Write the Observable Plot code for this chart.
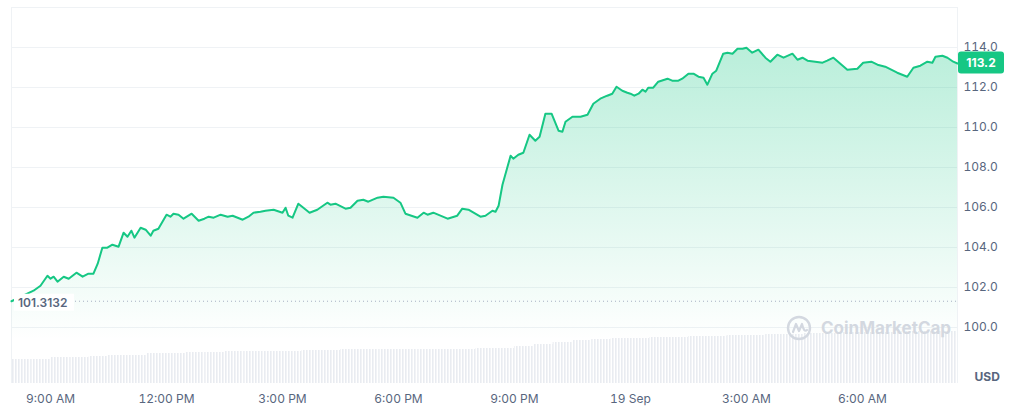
<!DOCTYPE html>
<html><head><meta charset="utf-8">
<script src="https://cdn.jsdelivr.net/npm/d3@7"></script>
<script src="https://cdn.jsdelivr.net/npm/@observablehq/plot@0.6"></script>
<style>
html,body{margin:0;padding:0;background:#fff;}
#chart{position:relative;width:1012px;height:418px;font-family:Inter,"Noto Sans",sans-serif;}
#chart svg{position:absolute;left:0;top:0;}
</style></head><body><div id="chart"></div>
<script>
// time in hours since 18 Sep 00:00 (local)
const hours = [7.99,8.56,8.74,8.92,9.00,9.08,9.18,9.34,9.47,9.67,9.83,9.98,10.11,10.22,10.34,10.47,10.60,10.76,10.89,10.99,
11.09,11.17,11.33,11.46,11.59,11.66,11.79,12.00,12.10,12.18,12.31,12.44,12.65,12.83,12.98,13.09,13.22,13.40,13.58,13.71,
13.97,14.12,14.25,14.43,14.56,14.77,15.00,15.08,15.15,15.26,15.41,15.54,15.70,15.90,16.16,16.24,16.37,16.63,16.76,16.94,
17.09,17.22,17.46,17.61,17.87,18.05,18.18,18.49,18.65,18.75,18.90,19.27,19.52,19.65,19.81,20.12,20.25,20.43,20.51,20.59,
20.69,20.90,20.97,21.10,21.23,21.39,21.54,21.65,21.80,21.96,22.14,22.24,22.32,22.50,22.71,22.89,23.04,23.22,23.40,23.53,
23.64,23.79,23.92,24.00,24.10,24.21,24.31,24.39,24.46,24.59,24.72,24.96,25.08,25.24,25.34,25.50,25.63,25.76,25.89,25.99,
26.12,26.22,26.40,26.51,26.64,26.77,26.90,27.00,27.15,27.31,27.49,27.62,27.80,27.96,28.19,28.32,28.45,28.58,28.78,28.97,
29.09,29.25,29.43,29.61,29.87,30.02,30.23,30.39,30.59,30.90,31.16,31.32,31.50,31.68,31.81,31.89,32.07,32.20,32.35,32.46];
const prices = [101.3132,101.84,102.09,102.59,102.44,102.54,102.29,102.54,102.44,102.74,102.54,102.69,102.69,103.19,103.99,103.99,104.14,104.04,104.74,104.54,
104.84,104.49,104.99,104.89,104.59,104.84,104.94,105.64,105.54,105.69,105.64,105.44,105.69,105.34,105.44,105.54,105.49,105.64,105.54,105.59,
105.39,105.54,105.74,105.79,105.84,105.89,105.74,105.99,105.59,105.49,106.19,105.99,105.74,105.89,106.24,106.14,106.19,105.94,105.99,106.34,
106.39,106.29,106.49,106.54,106.49,106.24,105.69,105.49,105.74,105.64,105.74,105.44,105.59,105.94,105.89,105.54,105.59,105.84,105.79,106.09,
107.14,108.59,108.44,108.64,108.74,109.64,109.34,109.54,110.69,110.69,109.84,109.79,110.29,110.54,110.54,110.64,111.19,111.44,111.59,111.69,
112.04,111.84,111.74,111.69,111.59,111.69,111.89,111.79,111.99,111.99,112.29,112.44,112.34,112.34,112.44,112.69,112.69,112.54,112.49,112.14,
112.69,112.84,113.69,113.74,113.69,113.94,113.94,113.99,113.74,113.89,113.49,113.29,113.64,113.49,113.69,113.39,113.49,113.34,113.29,113.24,
113.34,113.49,113.19,112.89,112.94,113.24,113.29,113.14,113.04,112.74,112.54,112.99,113.09,113.29,113.24,113.54,113.59,113.49,113.29,113.2];

// volume (relative units) per half hour
const volHours = [8.0,8.5,9.0,9.5,10.0,10.5,11.0,11.5,12.0,12.5,13.0,13.5,14.0,14.5,15.0,15.5,16.0,16.5,17.0,17.5,
18.0,18.5,19.0,19.5,20.0,20.5,21.0,21.5,22.0,22.5,23.0,23.5,24.0,24.5,25.0,25.5,26.0,26.5,27.0,27.5,
28.0,28.5,29.0,29.5,30.0,30.5,31.0,31.5,32.0];
const volumes = [24,24,26,26,27,28,28,30,30,31,31,32,32,32,32,33,33,34,34,34,
34,34,34,34,35,35,37,39,41,43,44,45,45,46,46,47,47,48,48,49,
49,50,50,51,51,51,52,52,52];

const xTicks = [9,12,15,18,21,24,27,30];
const xTickLabels = ["9:00 AM","12:00 PM","3:00 PM","6:00 PM","9:00 PM","19 Sep","3:00 AM","6:00 AM"];
const yTicks = [100,102,104,106,108,110,112,114];
const yGrid = [100,102,104,106,108,110,112,114,116];
const yDomain = [97.2,116];
const currency = "USD";
const brand = "CoinMarketCap";

const W = 1012, H = 418, mL = 11, mR = 55, mT = 7, mB = 35;
const xDomain = [hours[0], hours[hours.length-1]];
const priceData = hours.map((t,i)=>({t, v: prices[i]}));
const volData = volHours.map((t,i)=>({t, vol: volumes[i]}));
const green = "#16c784", gray = "#58667e", gridC = "#eff2f5";

const volPlot = Plot.plot({
  width: W, height: H, marginLeft: mL, marginRight: mR, marginTop: H - mB - 100, marginBottom: mB,
  style: {background: "transparent"},
  x: {domain: xDomain, axis: null},
  y: {domain: [0, 100], axis: null},
  marks: [
    () => {
      const d = d3.create("svg:defs");
      const p = d.append("pattern").attr("id","volStripes").attr("patternUnits","userSpaceOnUse")
        .attr("width",3).attr("height",10);
      p.append("rect").attr("width",1.6).attr("height",10).attr("fill","#e9ecf1");
      return d.node();
    },
    Plot.rectY(volData, {x: "t", y: "vol", interval: 0.5, fill: "url(#volStripes)", inset: 0, clip: true})
  ]
});

const pricePlot = Plot.plot({
  width: W, height: H, marginLeft: mL, marginRight: mR, marginTop: mT, marginBottom: mB,
  style: {background: "transparent", color: gray, fontSize: "12px", fontFamily: "Inter, 'Noto Sans', sans-serif"},
  x: {domain: xDomain},
  y: {domain: yDomain},
  marks: [
    () => {
      const d = d3.create("svg:defs");
      const g = d.append("linearGradient").attr("id","priceGrad").attr("gradientUnits","userSpaceOnUse")
        .attr("x1",0).attr("x2",0).attr("y1",46).attr("y2",340);
      g.append("stop").attr("offset","0").attr("stop-color",green).attr("stop-opacity",0.3);
      g.append("stop").attr("offset","1").attr("stop-color",green).attr("stop-opacity",0);
      return d.node();
    },
    Plot.ruleY(yGrid, {stroke: gridC, strokeWidth: 1}),
    Plot.ruleX(xDomain, {stroke: gridC, strokeWidth: 1}),
    Plot.areaY(priceData, {x: "t", y1: yDomain[0], y2: "v", fill: "url(#priceGrad)"}),
    Plot.ruleY([prices[0]], {stroke: "#a6b0c3", strokeDasharray: "1,3", strokeWidth: 1}),
    Plot.lineY(priceData, {x: "t", y: "v", stroke: green, strokeWidth: 2, strokeLinejoin: "round"}),
    (index, scales, values, dim) => {
      const g = d3.create("svg:g").attr("text-anchor", "start");
      const y = scales.y(prices[0]);
      const x0 = dim.marginLeft;
      g.append("rect").attr("x", x0 + 3).attr("y", y - 7).attr("width", 60).attr("height", 17).attr("fill","white");
      g.append("text").attr("x", x0 + 7).attr("y", y + 2).attr("dy","0.35em").attr("text-anchor","start")
        .attr("fill", gray).attr("font-weight", 600).attr("font-size", 12).text(String(prices[0]));
      return g.node();
    },
    (index, scales, values, dim) => {
      const g = d3.create("svg:g");
      const last = prices[prices.length-1];
      const y = scales.y(last);
      const x0 = dim.width - dim.marginRight + 1;
      g.append("rect").attr("x", x0).attr("y", y - 11.5).attr("width", 46).attr("height", 22).attr("rx", 3).attr("fill", green);
      g.append("text").attr("x", x0 + 23).attr("y", y).attr("dy","0.35em").attr("text-anchor","middle")
        .attr("fill","white").attr("font-weight",700).attr("font-size",12).text(d3.format(".1f")(last));
      return g.node();
    },
    (index, scales, values, dim) => {
      const g = d3.create("svg:g").attr("fill","none").attr("text-anchor","start");
      const cx = dim.width - dim.marginRight - 158, cy = dim.height - dim.marginBottom - 55;
      g.append("circle").attr("cx", cx).attr("cy", cy).attr("r", 11).attr("stroke", "#d3d8e0").attr("stroke-width", 2.4);
      g.append("path").attr("d", `M${cx-6},${cy+4} L${cx-3},${cy-4} L${cx},${cy+3} L${cx+3},${cy-4} Q${cx+5},${cy+5} ${cx+8},${cy+2}`)
        .attr("stroke", "#d3d8e0").attr("stroke-width", 2.2).attr("stroke-linejoin","round").attr("stroke-linecap","round");
      g.append("text").attr("x", cx + 22).attr("y", cy).attr("dy","0.36em").attr("text-anchor","start").attr("fill","#d3d8e0")
        .attr("font-size", 17).attr("font-weight", 700).text(brand);
      return g.node();
    },
    Plot.axisX({ticks: xTicks, tickFormat: d => xTickLabels[xTicks.indexOf(d)], tickSize: 0, tickPadding: 11, fontSize: 12, label: null}),
    Plot.axisY({anchor: "right", ticks: yTicks, tickFormat: d3.format(".1f"), tickSize: 0, tickPadding: 6, fontSize: 12, label: null}),
    Plot.text([currency], {frameAnchor: "bottom-right", dx: 17, dy: -3, textAnchor: "start", fontWeight: 700, fontSize: 12, fill: gray})
  ]
});

const chart = document.getElementById("chart");
chart.appendChild(volPlot);
chart.appendChild(pricePlot);
</script></body></html>
